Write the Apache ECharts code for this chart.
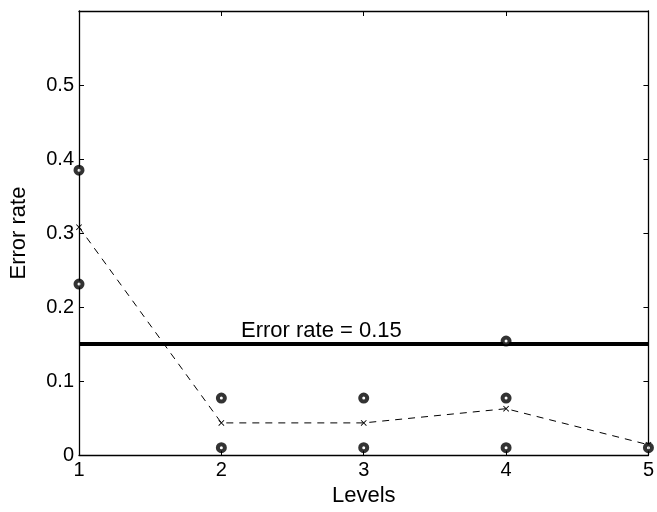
<!DOCTYPE html>
<html>
<head>
<meta charset="utf-8">
<script src="https://cdn.jsdelivr.net/npm/echarts@6/dist/echarts.min.js"></script>
<style>html,body{margin:0;padding:0;background:#fff}#c{width:657px;height:512px}</style>
</head>
<body>
<div id="c"></div>
<script>
// Data
var levels = [1, 2, 3, 4, 5];
var runLevel = [1, 1, 2, 2, 3, 3, 4, 4, 4, 5];
var runError = [0.385, 0.231, 0.077, 0.010, 0.077, 0.010, 0.154, 0.077, 0.010, 0.010];
var meanError = [0.308, 0.0435, 0.0435, 0.0627, 0.014];
var thresholdValue = 0.15;
var thresholdText = 'Error rate = 0.15';
var yTicks = [0, 0.1, 0.2, 0.3, 0.4, 0.5];

var font = 'Liberation Sans, Arial, Helvetica, sans-serif';
var chart = echarts.init(document.getElementById('c'), null, {renderer: 'canvas'});

var scatterData = runLevel.map(function (l, i) { return [l, runError[i]]; });
var meanData = levels.map(function (l, i) { return [l, meanError[i]]; });

var xSymbol = 'path://M0,1L1,0L5,4L9,0L10,1L6,5L10,9L9,10L5,6L1,10L0,9L4,5Z';

function axisCommon() {
  return {
    axisLine: {onZero: false, lineStyle: {color: '#000', width: 1.3}},
    axisTick: {inside: true, length: 5, lineStyle: {color: '#000', width: 1}},
    splitLine: {show: false}
  };
}

chart.setOption({
  animation: false,
  backgroundColor: '#fff',
  grid: {left: 77, right: 5, top: 11, bottom: 48},
  xAxis: [
    Object.assign({
      type: 'value', min: 1, max: 5, interval: 1, position: 'bottom',
      name: 'Levels', nameLocation: 'middle', nameGap: 25,
      nameTextStyle: {fontFamily: font, fontSize: 22, color: '#000'},
      axisLabel: {fontFamily: font, fontSize: 20, color: '#000', margin: 5}
    }, axisCommon()),
    Object.assign({
      type: 'value', min: 1, max: 5, interval: 1, position: 'top',
      axisLabel: {show: false}
    }, axisCommon())
  ],
  yAxis: [
    Object.assign({
      type: 'value', min: 0, max: 0.6, interval: 0.1, position: 'left',
      name: 'Error rate', nameLocation: 'middle', nameGap: 49,
      nameTextStyle: {fontFamily: font, fontSize: 22, color: '#000'},
      axisLabel: {fontFamily: font, fontSize: 20, color: '#000', margin: 5,
        formatter: function (v) {
          for (var i = 0; i < yTicks.length; i++) {
            if (Math.abs(v - yTicks[i]) < 1e-9) return String(yTicks[i]);
          }
          return '';
        }}
    }, axisCommon()),
    Object.assign({
      type: 'value', min: 0, max: 0.6, interval: 0.1, position: 'right',
      axisLabel: {show: false}
    }, axisCommon())
  ],
  graphic: [{
    type: 'text', left: 241, top: 320,
    style: {text: thresholdText, font: '22px ' + font, fill: '#000'}
  }],
  series: [
    {
      type: 'line',
      data: [[levels[0], thresholdValue], [levels[levels.length - 1], thresholdValue]],
      symbol: 'none',
      lineStyle: {color: '#000', width: 4},
      z: 2
    },
    {
      type: 'line',
      data: meanData,
      symbol: xSymbol,
      symbolSize: 6,
      itemStyle: {color: '#000'},
      lineStyle: {color: '#000', width: 1, type: [7, 6]},
      z: 3
    },
    {
      type: 'scatter',
      data: scatterData,
      symbol: 'circle',
      symbolSize: 7,
      itemStyle: {color: '#fff', borderColor: '#000', borderWidth: 4},
      z: 4
    }
  ]
});
</script>
</body>
</html>
